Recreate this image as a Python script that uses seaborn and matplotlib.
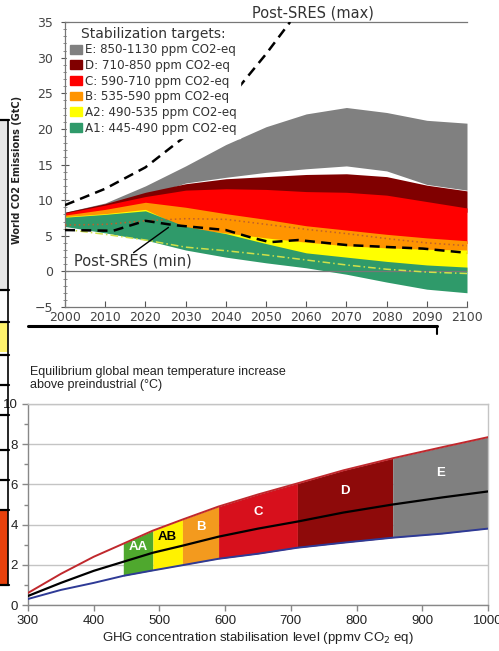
import numpy as np
import matplotlib
matplotlib.use("Agg")
import matplotlib.pyplot as plt
import matplotlib.patches as mpatches
from matplotlib.lines import Line2D
import seaborn as sns

# ── Top panel: world CO2 emissions (GtC) by stabilisation category ────────────
years = [2000, 2010, 2020, 2030, 2040, 2050, 2060, 2070, 2080, 2090, 2100]

e_hi  = [8.3, 9.6, 12.0, 14.8, 17.8, 20.3, 22.1, 23.0, 22.3, 21.2, 20.8]
e_lo  = [8.0, 9.0, 10.6, 12.4, 13.2, 13.9, 14.4, 14.8, 14.1, 12.2, 11.4]
d_hi  = [8.3, 9.5, 11.1, 12.3, 13.0, 13.3, 13.6, 13.7, 13.3, 12.1, 11.3]
d_lo  = [7.8, 8.8, 10.0, 10.5, 10.5, 10.3, 10.0, 9.8, 9.3, 8.8, 8.3]
c_hi  = [8.2, 9.3, 10.5, 11.4, 11.6, 11.5, 11.2, 11.1, 10.7, 9.8, 8.9]
c_lo  = [7.5, 8.2, 9.0, 8.0, 7.2, 6.5, 5.8, 5.2, 4.6, 4.2, 3.9]
b_hi  = [7.9, 8.7, 9.7, 9.0, 8.1, 7.3, 6.4, 5.8, 5.2, 4.7, 4.3]
b_lo  = [7.0, 7.2, 7.8, 5.5, 4.5, 3.7, 3.2, 3.0, 2.8, 2.6, 2.5]
a2_hi = [7.7, 8.1, 8.7, 6.0, 5.4, 4.7, 4.1, 3.6, 3.3, 3.1, 3.0]
a2_lo = [6.8, 6.8, 6.9, 4.6, 3.5, 2.6, 1.5, 0.9, 0.5, 0.2, 0.0]
a1_hi = [7.6, 8.0, 8.5, 6.3, 5.3, 3.9, 2.6, 2.0, 1.4, 0.9, 0.6]
a1_lo = [6.3, 5.4, 4.4, 3.0, 2.0, 1.2, 0.5, -0.4, -1.5, -2.5, -3.0]

dotted_b   = [6.5, 6.6, 7.1, 7.4, 7.3, 6.6, 5.9, 5.3, 4.6, 4.0, 3.6]
dashdot_a1 = [5.9, 5.2, 4.4, 3.4, 2.9, 2.3, 1.6, 0.9, 0.3, -0.1, -0.3]

sres_max_years = [2000, 2010, 2020, 2030, 2040, 2050, 2056]
sres_max       = [9.3, 11.6, 14.6, 19.0, 23.6, 30.5, 35.0]
sres_min_years = [2000, 2012, 2020, 2027, 2040, 2046, 2051, 2058, 2070, 2081, 2089, 2100]
sres_min       = [5.8, 5.7, 7.1, 6.5, 5.8, 4.8, 4.1, 4.4, 3.7, 3.4, 3.2, 2.6]

cat_labels = ["E: 850-1130 ppm CO2-eq", "D: 710-850 ppm CO2-eq",
              "C: 590-710 ppm CO2-eq", "B: 535-590 ppm CO2-eq",
              "A2: 490-535 ppm CO2-eq", "A1: 445-490 ppm CO2-eq"]
cat_colors = ["#808080", "#800000", "#FF0000", "#FF9400", "#FFFF00", "#2F9A6A"]

# ── Bottom panel: equilibrium warming vs concentration ────────────────────────
conc   = [300, 350, 400, 445, 490, 535, 590, 650, 710, 780, 855, 930, 1000]
t_high = [0.6, 1.55, 2.4, 3.05, 3.7, 4.25, 4.9, 5.5, 6.05, 6.7, 7.3, 7.85, 8.35]
t_best = [0.45, 1.1, 1.7, 2.15, 2.6, 2.95, 3.4, 3.8, 4.15, 4.6, 5.0, 5.35, 5.65]
t_low  = [0.3, 0.75, 1.1, 1.45, 1.72, 1.98, 2.3, 2.55, 2.85, 3.1, 3.35, 3.55, 3.8]

band_edges  = [445, 490, 535, 590, 710, 855, 1000]
band_names  = ["AA", "AB", "B", "C", "D", "E"]
band_colors = ["#4FA82E", "#FFF200", "#F39A1E", "#D7101C", "#8E0A0A", "#808080"]
band_text   = ["white", "black", "white", "white", "white", "white"]

# ── Style ─────────────────────────────────────────────────────────────────────
sns.set_theme(style="white")
plt.rcParams["font.family"] = ["DejaVu Sans"]

W, H = 499, 651
fig = plt.figure(figsize=(W / 100, H / 100), dpi=100)
fig.patch.set_facecolor("white")


def fx(x):
    return x / W


def fy(y):
    return 1 - y / H


# ── Top panel ─────────────────────────────────────────────────────────────────
ax1 = fig.add_axes([fx(65), fy(307), fx(467) - fx(65), fy(22) - fy(307)])
bands = [(e_lo, e_hi), (d_lo, d_hi), (c_lo, c_hi),
         (b_lo, b_hi), (a2_lo, a2_hi), (a1_lo, a1_hi)]
for i, ((lo, hi), col) in enumerate(zip(bands, cat_colors)):
    ax1.fill_between(years, lo, hi, color=col, linewidth=0, zorder=1 + i * 0.1)

ax1.axhline(0, color="#777777", lw=0.9, zorder=2)
sns.lineplot(x=years, y=dotted_b, ax=ax1, color="#C0602A", lw=1.1,
             linestyle=(0, (1, 2)), zorder=3)
sns.lineplot(x=years, y=dashdot_a1, ax=ax1, color="#CFE04A", lw=1.1,
             linestyle=(0, (5, 2, 1, 2)), zorder=3)
sns.lineplot(x=sres_max_years, y=sres_max, ax=ax1, color="black", lw=1.8,
             linestyle=(0, (4, 2.5)), zorder=4)
sns.lineplot(x=sres_min_years, y=sres_min, ax=ax1, color="black", lw=1.8,
             linestyle=(0, (4, 2.5)), zorder=4)

ax1.set_xlim(2000, 2100)
ax1.set_ylim(-5, 35)
ax1.set_xticks(range(2000, 2101, 10))
ax1.set_yticks(range(-5, 36, 5))
ax1.set_yticks(range(-5, 36, 1), minor=True)
ax1.tick_params(axis="y", which="major", direction="inout", length=6,
                width=0.8, color="#555555", labelsize=9, labelcolor="#444444",
                left=True, pad=5.5)
ax1.tick_params(axis="y", which="minor", direction="inout", length=3,
                width=0.6, color="#777777", left=True)
ax1.tick_params(axis="x", direction="in", length=4, width=0.8,
                color="#555555", labelsize=9, labelcolor="#444444",
                bottom=True, pad=3)
for side in ["left", "bottom", "top"]:
    ax1.spines[side].set_color("#777777")
    ax1.spines[side].set_linewidth(0.9)
ax1.spines["right"].set_visible(False)
ax1.set_xlabel("")
ax1.set_ylabel("")

ax1.text(2046.5, 36.3, "Post-SRES (max)", fontsize=10.5, color="#333333",
         ha="left", va="center", clip_on=False)
ax1.text(2002.3, 1.4, "Post-SRES (min)", fontsize=10.5, color="#333333",
         ha="left", va="center", zorder=6)
ax1.annotate("", xy=(2026.3, 6.4), xytext=(2016.5, 2.4),
             arrowprops=dict(arrowstyle="-", color="black", lw=1), zorder=6)

handles = [mpatches.Patch(color=c, label=l) for c, l in zip(cat_colors, cat_labels)]
leg = ax1.legend(handles=handles, title="Stabilization targets:", loc="upper left",
                 bbox_to_anchor=(0.0, 1.0), borderaxespad=0.15, fontsize=8.6,
                 title_fontsize=10, handlelength=1.0, handleheight=0.75,
                 handletextpad=0.3, labelspacing=0.22, borderpad=0.25,
                 frameon=True, facecolor="white", edgecolor="white",
                 framealpha=1, fancybox=False)
for t in leg.get_texts():
    t.set_color("#333333")
leg.get_title().set_color("#333333")
leg.set_zorder(10)

fig.text(fx(17), fy(170), "World CO2 Emissions (GtC)", rotation=90,
         fontsize=7, color="#222222", ha="center", va="center",
         fontweight="bold")

# ── Bottom panel ──────────────────────────────────────────────────────────────
ax2 = fig.add_axes([fx(28), fy(605), fx(488) - fx(28), fy(404) - fy(605)])
for lo_e, hi_e, col in zip(band_edges[:-1], band_edges[1:], band_colors):
    idx = [i for i, c in enumerate(conc) if lo_e <= c <= hi_e]
    xs = [conc[i] for i in idx]
    ax2.fill_between(xs, [t_low[i] for i in idx], [t_high[i] for i in idx],
                     color=col, linewidth=0, zorder=2)

sns.lineplot(x=conc, y=t_high, ax=ax2, color="#C0282D", lw=1.4, zorder=3)
sns.lineplot(x=conc, y=t_best, ax=ax2, color="black", lw=1.6, zorder=3)
sns.lineplot(x=conc, y=t_low, ax=ax2, color="#2E3A96", lw=1.4, zorder=3)

for lo_e, hi_e, name, tc in zip(band_edges[:-1], band_edges[1:], band_names, band_text):
    xc = (lo_e + hi_e) / 2
    yc = (np.interp(xc, conc, t_best) + np.interp(xc, conc, t_high)) / 2
    ax2.text(xc, yc, name, color=tc, fontsize=9.5, fontweight="bold",
             ha="center", va="center", family="Liberation Sans", zorder=5)

ax2.set_xlim(300, 1000)
ax2.set_ylim(0, 10)
ax2.set_xticks(range(300, 1001, 100))
ax2.set_yticks(range(0, 11, 2))
ax2.set_yticks(range(1, 10, 2), minor=True)
ax2.grid(axis="y", which="major", color="#C4C4C4", lw=1, zorder=0)
ax2.set_axisbelow(True)
ax2.tick_params(axis="both", which="major", direction="out", length=4,
                width=1, color="#888888", labelsize=9.5, labelcolor="#222222",
                left=True, bottom=True)
ax2.tick_params(axis="y", which="minor", direction="out", length=3,
                width=1, color="#888888", left=True)
ax2.spines["left"].set_color("#888888")
ax2.spines["bottom"].set_color("#888888")
ax2.spines["top"].set_color("#C4C4C4")
ax2.spines["right"].set_color("#C4C4C4")
for s in ax2.spines.values():
    s.set_linewidth(1)
for lbl in ax2.get_xticklabels() + ax2.get_yticklabels():
    lbl.set_family("Liberation Sans")
ax2.set_ylabel("")
ax2.set_xlabel("GHG concentration stabilisation level (ppmv CO$_2$ eq)",
               fontsize=9.5, color="#222222", family="Liberation Sans",
               labelpad=2)
fig.text(fx(30), fy(366), "Equilibrium global mean temperature increase\n"
         "above preindustrial (°C)", fontsize=9, color="#222222",
         family="Liberation Sans", ha="left", va="top", linespacing=1.15)

# ── Screenshot remnants around the panels ─────────────────────────────────────
fig.add_artist(Line2D([fx(28), fx(437)], [fy(326), fy(326)], color="black",
                      lw=2.2, transform=fig.transFigure))
fig.add_artist(Line2D([fx(437), fx(437)], [fy(326), fy(334)], color="black",
                      lw=1.5, transform=fig.transFigure))
fig.add_artist(mpatches.Rectangle((0, fy(290)), fx(8), fy(120) - fy(290),
                                  facecolor="#E6E6E6", edgecolor="none",
                                  transform=fig.transFigure))
fig.add_artist(mpatches.Rectangle((0, fy(352)), fx(8), fy(322) - fy(352),
                                  facecolor="#FFF36B", edgecolor="none",
                                  transform=fig.transFigure))
fig.add_artist(mpatches.Rectangle((0, fy(585)), fx(8), fy(510) - fy(585),
                                  facecolor="#E8410C", edgecolor="none",
                                  transform=fig.transFigure))
fig.add_artist(Line2D([fx(8), fx(8)], [fy(120), fy(585)], color="black",
                      lw=1.2, transform=fig.transFigure))
for yy in [120, 290, 322, 355, 385, 415, 450, 480, 510, 585]:
    fig.add_artist(Line2D([0, fx(9)], [fy(yy), fy(yy)], color="black",
                          lw=1.6, transform=fig.transFigure))

fig.savefig("out.png", dpi=100, facecolor="white")
plt.close(fig)
